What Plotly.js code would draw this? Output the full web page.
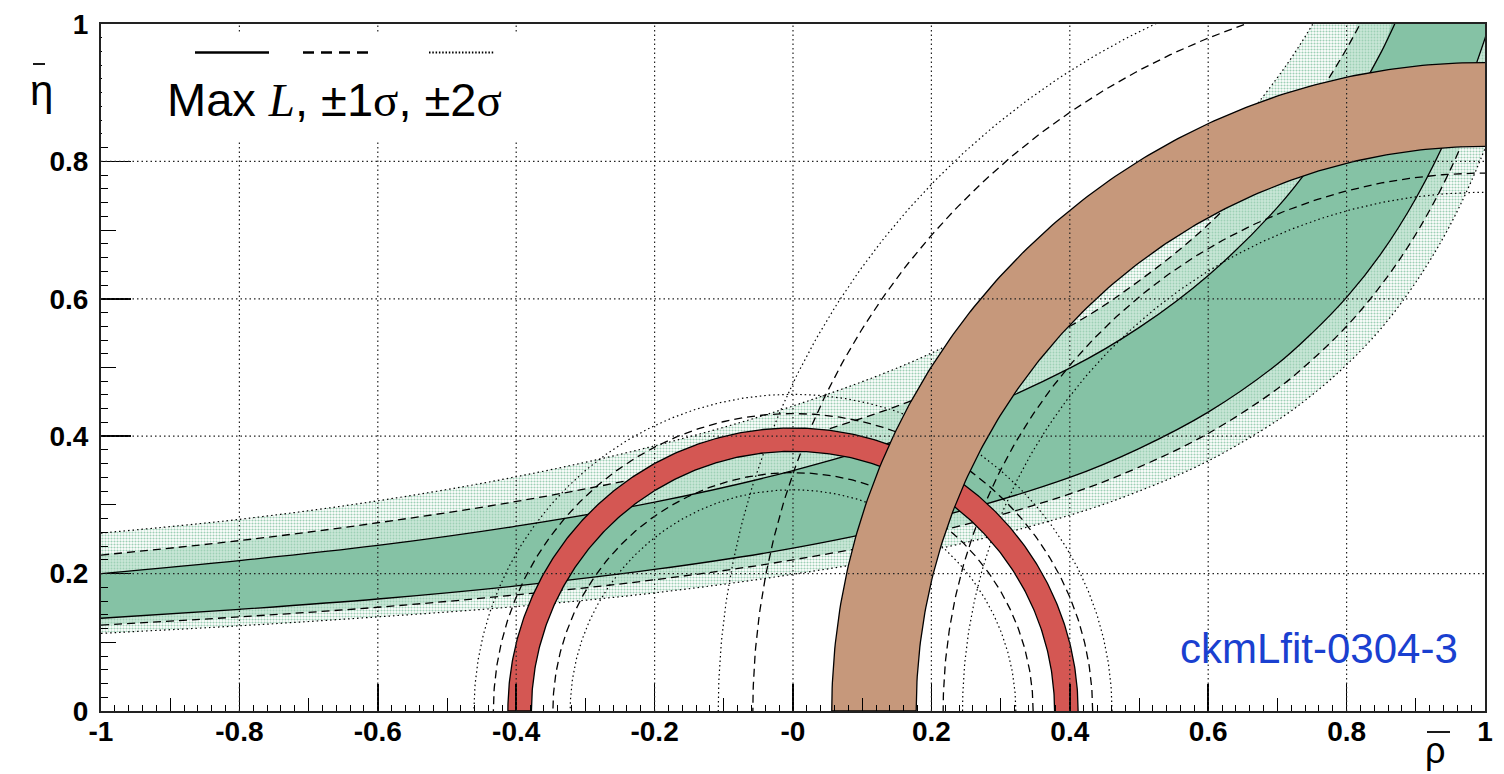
<!DOCTYPE html>
<html><head><meta charset="utf-8">
<script src="https://cdn.plot.ly/plotly-3.0.1.min.js"></script>
<style>html,body{margin:0;padding:0;background:#fff;} #chart{width:1504px;height:774px;}</style>
</head><body><div id="chart"></div>
<script>
// ---- tick labels ----
const xTickVals = [-1, -0.8, -0.6, -0.4, -0.2, 0, 0.2, 0.4, 0.6, 0.8, 1];
const xTickText = ['-1', '-0.8', '-0.6', '-0.4', '-0.2', '-0', '0.2', '0.4', '0.6', '0.8', '1'];
const yTickVals = [0, 0.2, 0.4, 0.6, 0.8, 1];
const yTickText = ['0', '0.2', '0.4', '0.6', '0.8', '1'];
const xGridVals = [-0.8, -0.6, -0.4, -0.2, 0, 0.2, 0.4, 0.6, 0.8];
const yGridVals = [0.2, 0.4, 0.6, 0.8];

// ---- epsilon_K band (rho-bar grid and eta-bar values) ----
const rhoK = [-1, -0.8, -0.6, -0.4, -0.2, 0, 0.2, 0.4, 0.5, 0.6, 0.7, 0.75, 0.8, 0.85, 0.9, 0.95, 1.0, 1.05];
const etaKup2 = [0.259, 0.279, 0.306, 0.341, 0.386, 0.444, 0.521, 0.631, 0.705, 0.799, 0.922, 0.998, 1.089];
const etaKup1 = [0.227, 0.248, 0.274, 0.305, 0.344, 0.395, 0.463, 0.560, 0.626, 0.708, 0.817, 0.884, 0.964, 1.060];
const etaKmax = [0.200, 0.219, 0.241, 0.269, 0.304, 0.350, 0.411, 0.499, 0.558, 0.634, 0.733, 0.796, 0.870, 0.959, 1.069];
const etaKmin = [0.135, 0.148, 0.163, 0.182, 0.206, 0.237, 0.280, 0.340, 0.382, 0.435, 0.505, 0.550, 0.602, 0.666, 0.746, 0.847, 0.979, 1.160];
const etaKlo1 = [0.125, 0.137, 0.151, 0.169, 0.191, 0.220, 0.259, 0.316, 0.355, 0.404, 0.469, 0.511, 0.560, 0.620, 0.694, 0.788, 0.912, 1.082];
const etaKlo2 = [0.113, 0.124, 0.137, 0.152, 0.172, 0.199, 0.234, 0.285, 0.320, 0.364, 0.423, 0.460, 0.504, 0.557, 0.624, 0.708, 0.819, 0.970];

// ---- |Vub/Vcb| circles (centre, radii) ----
const vubCenter = [0, 0];
const vubRing = [0.378, 0.412];
const vubSig1 = [0.347, 0.433];
const vubSig2 = [0.322, 0.461];

// ---- Delta m_d circles (centre, radii) ----
const dmdCenter = [1, 0];
const dmdRing = [0.822, 0.944];
const dmdSig1 = [0.783, 1.058];
const dmdSig2 = [0.755, 1.108];

// ---- colours ----
const cDark = '#85c2a5', cMint = '#c9e7d7', cDot = '#9dd0b5';
const cRed = '#d45753', cBrown = '#c6987b';

function arc(c, r, a0, a1, n) {
  const x = [], y = [];
  for (let i = 0; i <= n; i++) {
    const a = a0 + (a1 - a0) * i / n;
    x.push(c[0] + r * Math.cos(a)); y.push(c[1] + r * Math.sin(a));
  }
  return {x, y};
}
function band(upY, loY) {
  const ux = rhoK.slice(0, upY.length);
  const lx = rhoK.slice(0, loY.length);
  return {
    x: ux.concat([1.3]).concat(lx.slice().reverse()),
    y: upY.concat([1.3]).concat(loY.slice().reverse())
  };
}
function ring(c, r) {
  const o = arc(c, r[1], 0, Math.PI, 360), i = arc(c, r[0], Math.PI, 0, 360);
  return {x: o.x.concat(i.x), y: o.y.concat(i.y)};
}

const traces = [];
const b2 = band(etaKup2, etaKlo2), b1 = band(etaKup1, etaKlo1), b0 = band(etaKmax, etaKmin);
traces.push({type: 'scatter', mode: 'lines', x: b2.x, y: b2.y, fill: 'toself', line: {width: 0, shape: 'spline'},
  fillcolor: '#ffffff', fillpattern: {shape: '.', bgcolor: '#ffffff', fgcolor: cDot, size: 3, solidity: 0.4}, hoverinfo: 'skip'});
traces.push({type: 'scatter', mode: 'lines', x: b1.x, y: b1.y, fill: 'toself', line: {width: 0, shape: 'spline'},
  fillcolor: cMint, fillpattern: {shape: '.', bgcolor: cMint, fgcolor: cDot, size: 3, solidity: 0.3}, hoverinfo: 'skip'});
traces.push({type: 'scatter', mode: 'lines', x: b0.x, y: b0.y, fill: 'toself', line: {width: 0, shape: 'spline'},
  fillcolor: cDark, hoverinfo: 'skip'});

function curve(ys, dash, w) {
  traces.push({type: 'scatter', mode: 'lines', x: rhoK.slice(0, ys.length), y: ys,
    line: {color: '#000', width: w, dash: dash, shape: 'spline'}, hoverinfo: 'skip'});
}
curve(etaKup2, '1.5px,3px', 1.2); curve(etaKlo2, '1.5px,3px', 1.2);
curve(etaKup1, '8px,5px', 1.3); curve(etaKlo1, '8px,5px', 1.3);
curve(etaKmax, 'solid', 1.3); curve(etaKmin, 'solid', 1.3);

function circ(c, r, dash) {
  const a = arc(c, r, 0, Math.PI, 360);
  traces.push({type: 'scatter', mode: 'lines', x: a.x, y: a.y,
    line: {color: '#000', width: dash === '8px,5px' ? 1.3 : 1.2, dash: dash}, hoverinfo: 'skip'});
}
vubSig1.forEach(r => circ(vubCenter, r, '8px,5px'));
vubSig2.forEach(r => circ(vubCenter, r, '1.5px,3px'));
dmdSig1.forEach(r => circ(dmdCenter, r, '8px,5px'));
dmdSig2.forEach(r => circ(dmdCenter, r, '1.5px,3px'));

const rr = ring(vubCenter, vubRing), rb = ring(dmdCenter, dmdRing);
traces.push({type: 'scatter', mode: 'lines', x: rr.x, y: rr.y, fill: 'toself', fillcolor: cRed,
  line: {color: '#000', width: 1.3}, hoverinfo: 'skip'});
traces.push({type: 'scatter', mode: 'lines', x: rb.x, y: rb.y, fill: 'toself', fillcolor: cBrown,
  line: {color: '#000', width: 1.3}, hoverinfo: 'skip'});
traces.push({type: 'scatter', mode: 'markers', x: [null], y: [null], xaxis: 'x2', yaxis: 'y2', hoverinfo: 'skip'});

// ---- pixel helpers for decorations ----
const W = 1504, H = 774, ML = 101, MR = 19, MT = 24, MB = 63;
const PW = W - ML - MR, PH = H - MT - MB;
const px = v => (v - ML) / PW;
const py = v => (H - MB - v) / PH;

const shapes = [];
xGridVals.forEach(v => shapes.push({type: 'line', xref: 'x', yref: 'y', x0: v, x1: v, y0: 0, y1: 1, layer: 'above',
  line: {color: '#222', width: 1.2, dash: '1.5px,3px'}}));
yGridVals.forEach(v => shapes.push({type: 'line', xref: 'x', yref: 'y', x0: -1, x1: 1, y0: v, y1: v, layer: 'above',
  line: {color: '#222', width: 1.2, dash: '1.5px,3px'}}));
// legend box (white, no border)
shapes.push({type: 'rect', xref: 'paper', yref: 'paper', x0: px(102), x1: px(542), y0: py(140), y1: py(33),
  fillcolor: '#ffffff', line: {width: 0}, layer: 'above'});
shapes.push({type: 'line', xref: 'paper', yref: 'paper', x0: px(195), x1: px(269), y0: py(52.5), y1: py(52.5),
  line: {color: '#000', width: 2.5}});
shapes.push({type: 'line', xref: 'paper', yref: 'paper', x0: px(303), x1: px(369), y0: py(52.5), y1: py(52.5),
  line: {color: '#000', width: 2.5, dash: '11px,7px'}});
shapes.push({type: 'line', xref: 'paper', yref: 'paper', x0: px(429), x1: px(494), y0: py(52.5), y1: py(52.5),
  line: {color: '#000', width: 2.2, dash: '1.5px,1.8px'}});
// bars of eta-bar and rho-bar
shapes.push({type: 'line', xref: 'paper', yref: 'paper', x0: px(33), x1: px(45), y0: py(64), y1: py(64),
  line: {color: '#000', width: 1.8}});
shapes.push({type: 'line', xref: 'paper', yref: 'paper', x0: px(1427), x1: px(1450), y0: py(732), y1: py(732),
  line: {color: '#000', width: 1.8}});

const annotations = [
  {xref: 'paper', yref: 'paper', x: px(41), y: py(90), text: 'η', showarrow: false, xanchor: 'center', yanchor: 'middle',
    font: {family: 'Liberation Sans, Arial, sans-serif', size: 42, color: '#000'}},
  {xref: 'paper', yref: 'paper', x: px(1435), y: py(750), text: 'ρ', showarrow: false, xanchor: 'center', yanchor: 'middle',
    font: {family: 'Liberation Sans, Arial, sans-serif', size: 36, color: '#000'}},
  {xref: 'paper', yref: 'paper', x: px(165), y: py(100), showarrow: false, xanchor: 'left', yanchor: 'middle',
    text: 'Max <span style="font-family:Liberation Serif;font-style:italic">L</span>, ±1<span style="font-family:Liberation Serif">σ</span>, ±2<span style="font-family:Liberation Serif">σ</span>',
    font: {family: 'Liberation Sans, Arial, sans-serif', size: 47, color: '#000'}},
  {xref: 'paper', yref: 'paper', x: px(1178), y: py(648), showarrow: false, xanchor: 'left', yanchor: 'middle',
    text: 'ckmLfit-0304-3', font: {family: 'Liberation Sans, Arial, sans-serif', size: 42, color: '#1a40d0'}}
];

const tickFont = {family: 'Liberation Sans, Arial, sans-serif', size: 28, color: '#000', weight: 'bold'};
const layout = {
  width: W, height: H, margin: {l: ML, r: MR, t: MT, b: MB, pad: 0},
  paper_bgcolor: '#fff', plot_bgcolor: '#fff', showlegend: false,
  xaxis: {range: [-1, 1], tickmode: 'array', tickvals: xTickVals, ticktext: xTickText, ticks: 'inside', ticklen: 27,
    tickwidth: 1.5, tickcolor: '#000', showgrid: false, zeroline: false, showline: true, linecolor: '#222', linewidth: 2,
    mirror: true, tickfont: tickFont, ticklabelstandoff: -6, fixedrange: true,
    minor: {ticks: 'inside', ticklen: 6, tickwidth: 1, tickcolor: '#000', tickmode: 'linear', tick0: 0, dtick: 0.02, showgrid: false}},
  yaxis: {range: [0, 1], tickmode: 'array', tickvals: yTickVals, ticktext: yTickText, ticks: 'inside', ticklen: 30,
    tickwidth: 1.5, tickcolor: '#000', showgrid: false, zeroline: false, showline: true, linecolor: '#222', linewidth: 2,
    mirror: true, tickfont: tickFont, ticklabelstandoff: 5, fixedrange: true,
    minor: {ticks: 'inside', ticklen: 7, tickwidth: 1, tickcolor: '#000', tickmode: 'linear', tick0: 0, dtick: 0.02, showgrid: false}},
  xaxis2: {range: [-1, 1], overlaying: 'x', anchor: 'y2', side: 'bottom', tickmode: 'linear', tick0: 0, dtick: 0.1,
    ticks: 'inside', ticklen: 13, tickwidth: 1, tickcolor: '#000', showticklabels: false, showgrid: false, zeroline: false,
    showline: false, fixedrange: true},
  yaxis2: {range: [0, 1], overlaying: 'y', anchor: 'x2', side: 'left', tickmode: 'linear', tick0: 0, dtick: 0.1,
    ticks: 'inside', ticklen: 15, tickwidth: 1, tickcolor: '#000', showticklabels: false, showgrid: false, zeroline: false,
    showline: false, fixedrange: true},
  shapes: shapes, annotations: annotations
};
Plotly.newPlot('chart', traces, layout, {displayModeBar: false, staticPlot: true});
</script></body></html>
